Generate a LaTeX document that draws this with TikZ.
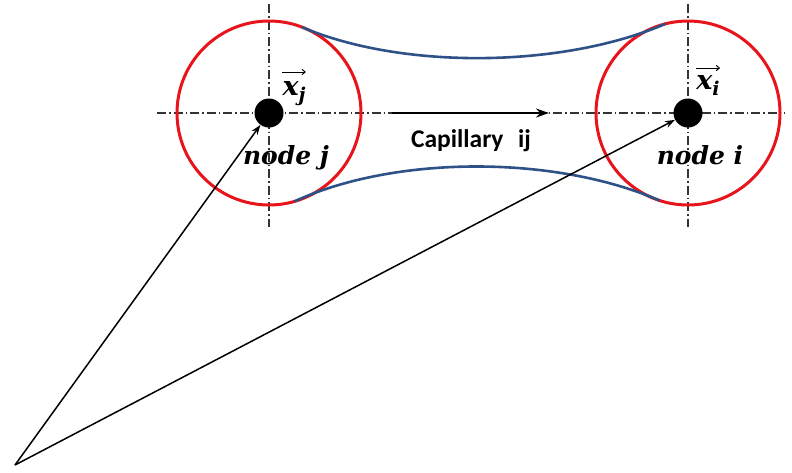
\documentclass[tikz,border=0pt]{standalone}
\usepackage{fontspec}
\usetikzlibrary{arrows.meta,positioning}
\newfontfamily\capfont{Carlito}
\newfontfamily\nodefont{DejaVu Serif}
\definecolor{ringred}{HTML}{E8141C}
\definecolor{tubeblue}{HTML}{2E5287}
\definecolor{axisgray}{HTML}{333333}
\newcommand{\possub}[2]{#1\raisebox{-6pt}{\fontsize{19}{21}\selectfont #2}}

\begin{document}
\begin{tikzpicture}[
  x=1pt, y=-1pt,
  axis/.style={axisgray, line width=1.2pt, dash pattern=on 9pt off 3pt on 1.5pt off 3pt},
  ring/.style={circle, draw=ringred, line width=3pt, minimum size=184pt, inner sep=0pt, outer sep=0pt},
  dot/.style={circle, fill=black, minimum size=29pt, inner sep=0pt},
  tube/.style={tubeblue, line width=2.6pt},
  flow/.style={-{Stealth[length=13pt,width=9pt]}, line width=2.6pt},
  posvec/.style={-{Stealth[length=10pt,width=7pt]}, line width=1.5pt},
  overarrow/.style={-{To[length=4pt,width=6pt]}, line width=1pt},
  nodelabel/.style={font=\nodefont\fontsize{25}{28}\selectfont\bfseries\itshape},
  veclabel/.style={font=\nodefont\fontsize{27}{30}\selectfont\bfseries\itshape, inner sep=0pt, anchor=north},
]
\useasboundingbox (0,0) rectangle (792,472);

% Centre lines
\coordinate (cj) at (269,113);
\coordinate (ci) at (688,113);
\draw[axis] (157,113) -- (785,113);
\draw[axis] (269,4) -- (269,227);
\draw[axis] (688,4) -- (688,227);

% Pore bodies
\node[ring] (ringj) at (cj) {};
\node[ring] (ringi) at (ci) {};

% Capillary walls
\draw[tube] (ringj.69) .. controls (400,69) and (560,69) .. (ringi.104);
\draw[tube] (ringj.-74) .. controls (395,155) and (555,155) .. (ringi.-108);

% Flow direction
\coordinate (capstart) at (392,113);
\coordinate (capend) at (549,113);
\draw[flow] (capstart) -- (capend);
\node[font=\capfont\fontsize{25.5}{29}\selectfont\bfseries] (caplabel) at (471,141) {Capillary\hspace{0.35em} ij};

% Node centres
\node[dot] (dotj) at (cj) {};
\node[dot] (doti) at (ci) {};
\node[veclabel] (xj) at (294,81) {\possub{x}{j}};
\node[veclabel] (xi) at (708,75) {\possub{x}{i}};
\draw[overarrow] ([yshift=9pt]xj.north west) -- ([yshift=9pt]xj.north east);
\draw[overarrow] ([yshift=7pt]xi.north west) -- ([yshift=7pt]xi.north east);
\node[nodelabel] (labj) at (286,158) {node j};
\node[nodelabel] (labi) at (700,155) {node i};

% Position vectors
\coordinate (origin) at (15,465);
\draw[posvec] (origin) -- (dotj);
\draw[posvec] (origin) -- (doti);

\end{tikzpicture}
\end{document}
